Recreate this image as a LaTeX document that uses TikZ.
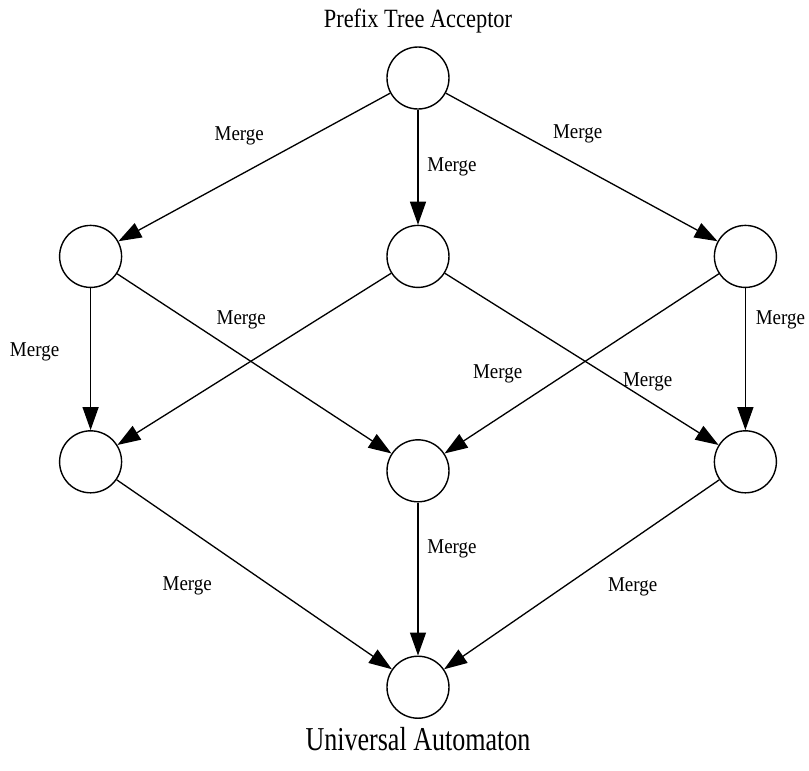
\documentclass[tikz,border=0pt]{standalone}
\usepackage{graphicx}
\usepackage{fontspec}
\setmainfont{Liberation Serif}
\usetikzlibrary{positioning,arrows.meta}

\begin{document}
\begin{tikzpicture}[
        statenode/.style={circle, draw=black, line width=0.8pt, minimum size=12.4mm, inner sep=0pt},
        mergeedge/.style={line width=0.75pt, -{Triangle[length=4.6mm, width=3.2mm]}},
        mergelabel/.style={font=\fontsize{12}{14}\selectfont, inner sep=0pt},
        emptynode/.style={rectangle, inner sep=0pt},
        ]
        \useasboundingbox (-83.6mm,-138.4mm) rectangle (78.2mm,15.6mm);
        %Nodes
        \node[statenode] (top) at (0,0) {};
        \node[statenode] (mid1) [below=23mm of top] {};
        \node[statenode] (left1) [left=52.8mm of mid1] {};
        \node[statenode] (right1) [right=52.8mm of mid1] {};
        \node[statenode] (left2) [below=28.4mm of left1] {};
        \node[statenode] (right2) [below=28.4mm of right1] {};
        \node[statenode] (mid2) [below=30.2mm of mid1] {};
        \node[statenode] (bottom) [below=30.6mm of mid2] {};

        \node[emptynode] (pta) [above=2.6mm of top] {\fontsize{15}{18}\selectfont\scalebox{0.85}[1]{Prefix Tree Acceptor}};
        \node[emptynode] (ua) [below=1.6mm of bottom] {\fontsize{19}{23}\selectfont\scalebox{0.78}[1]{Universal Automaton}};

        %Edges
        \draw[mergeedge] (top) -- node[mergelabel, xshift=-3mm, yshift=6.3mm] {\scalebox{0.9}[1]{Merge}} (left1);
        \draw[mergeedge] (top) -- node[mergelabel, xshift=6.8mm] {\scalebox{0.9}[1]{Merge}} (mid1);
        \draw[mergeedge] (top) -- node[mergelabel, xshift=-0.8mm, yshift=6.7mm] {\scalebox{0.9}[1]{Merge}} (right1);

        \draw[mergeedge] (left1) -- node[mergelabel, xshift=-11.2mm, yshift=1.4mm] {\scalebox{0.9}[1]{Merge}} (left2);
        \draw[mergeedge] (left1) -- node[mergelabel, xshift=-2.6mm, yshift=8.7mm] {\scalebox{0.9}[1]{Merge}} (mid2);
        \draw[mergeedge] (mid1) -- (left2);
        \draw[mergeedge] (mid1) -- node[mergelabel, xshift=13.2mm, yshift=-4.6mm] {\scalebox{0.9}[1]{Merge}} (right2);
        \draw[mergeedge] (right1) -- node[mergelabel, xshift=-16.8mm, yshift=-2.1mm] {\scalebox{0.9}[1]{Merge}} (mid2);
        \draw[mergeedge] (right1) -- node[mergelabel, xshift=7mm, yshift=7.8mm] {\scalebox{0.9}[1]{Merge}} (right2);

        \draw[mergeedge] (left2) -- node[mergelabel, xshift=-13.4mm, yshift=-2.2mm] {\scalebox{0.9}[1]{Merge}} (bottom);
        \draw[mergeedge] (mid2) -- node[mergelabel, xshift=6.8mm, yshift=6.1mm] {\scalebox{0.9}[1]{Merge}} (bottom);
        \draw[mergeedge] (right2) -- node[mergelabel, xshift=10.2mm, yshift=-2.4mm] {\scalebox{0.9}[1]{Merge}} (bottom);
    \end{tikzpicture}
\end{document}
